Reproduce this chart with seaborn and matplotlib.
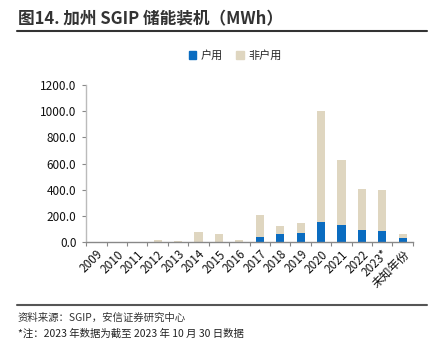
import matplotlib
matplotlib.use("Agg")
import matplotlib.pyplot as plt
import seaborn as sns
import pandas as pd
from matplotlib.lines import Line2D
from matplotlib.patches import Patch

categories = ["2009", "2010", "2011", "2012", "2013", "2014", "2015", "2016",
              "2017", "2018", "2019", "2020", "2021", "2022", "2023*", "未知年份"]
residential = [0, 0, 0, 0, 0, 0, 0, 0, 36, 64, 69, 153, 130, 94, 82, 33]
non_residential = [1, 1, 3, 14, 12, 80, 63, 17, 168, 61, 79, 851, 494, 311, 315, 28]
yticks = [0, 200, 400, 600, 800, 1000, 1200]

sns.set_theme(style="white")
plt.rcParams['font.family'] = ['Noto Sans CJK SC', 'DejaVu Sans']

df = pd.DataFrame({"year": categories,
                   "res": residential,
                   "total": [a + b for a, b in zip(residential, non_residential)]})

fig = plt.figure(figsize=(4.44, 3.43), dpi=100)
ax = fig.add_axes([0.194, 0.294, 0.736, 0.458])

blue = "#0A6CC0"
beige = "#DFD6C0"
sns.barplot(data=df, x="year", y="total", color=beige, width=0.4, ax=ax,
            saturation=1, edgecolor="none")
sns.barplot(data=df, x="year", y="res", color=blue, width=0.4, ax=ax,
            saturation=1, edgecolor="none")

ax.set_ylim(0, 1200)
ax.set_yticks(yticks)
ax.set_yticklabels([f"{v:.1f}" for v in yticks], fontsize=8.5, color="#111111")
ax.set_xlim(-0.5, len(categories) - 0.5)
ax.set_xticks(range(len(categories)))
ax.set_xticklabels(categories, rotation=45, ha="right", rotation_mode="anchor",
                   fontsize=8.5, color="#111111")
ax.tick_params(axis="x", length=0, pad=4)
ax.tick_params(axis="y", length=3, color="#888888", width=0.8, left=True, pad=4)
# category boundary ticks on x axis
ax.set_xticks([i - 0.5 for i in range(len(categories) + 1)], minor=True)
ax.tick_params(axis="x", which="minor", length=3, color="#888888", width=0.8, bottom=True)
ax.set_xlabel("")
ax.set_ylabel("")
for s in ["top", "right"]:
    ax.spines[s].set_visible(False)
ax.spines["left"].set_color("#BBBBBB")
ax.spines["bottom"].set_color("#888888")
ax.spines["left"].set_linewidth(1.0)
ax.spines["bottom"].set_linewidth(1.0)

handles = [Patch(color=blue, label="户用"), Patch(color=beige, label="非户用")]
fig.legend(handles=handles, loc="center", bbox_to_anchor=(0.53, 0.838), ncol=2,
           frameon=False, fontsize=8, handlelength=0.7, handleheight=0.7,
           handletextpad=0.4, columnspacing=1.2)

fig.text(0.04, 0.945, "图14. 加州 SGIP 储能装机（MWh）", fontsize=12,
         fontweight="semibold", color="#333333", va="center", ha="left")
fig.add_artist(Line2D([0.038, 0.962], [0.91, 0.91], color="#333333", lw=1.5,
                      transform=fig.transFigure))
fig.add_artist(Line2D([0.038, 0.962], [0.111, 0.111], color="#555555", lw=1.5,
                      transform=fig.transFigure))
fig.text(0.04, 0.075, "资料来源：SGIP，安信证券研究中心", fontsize=7.5,
         style="italic", color="#333333", va="center", ha="left")
fig.text(0.04, 0.028, "*注：2023 年数据为截至 2023 年 10 月 30 日数据", fontsize=7.5,
         color="#222222", va="center", ha="left")

fig.savefig("out.png", dpi=100)
